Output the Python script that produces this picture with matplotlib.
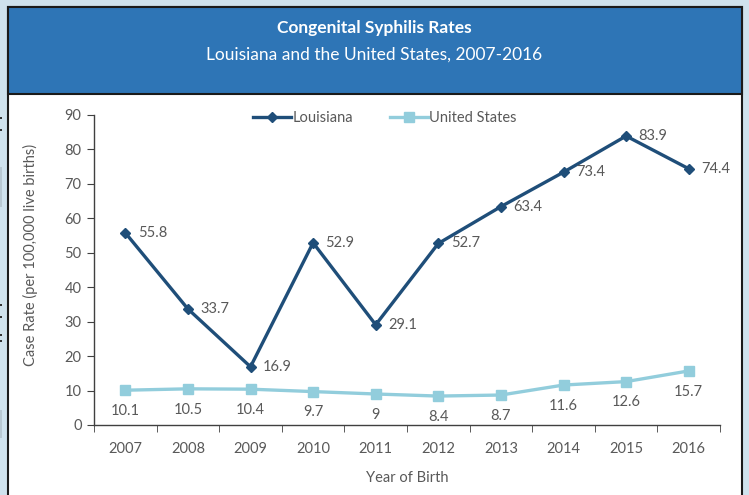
import matplotlib
matplotlib.use('Agg')
import matplotlib.pyplot as plt
import matplotlib.patches as patches

years = ['2007', '2008', '2009', '2010', '2011', '2012', '2013', '2014', '2015', '2016']
louisiana = [55.8, 33.7, 16.9, 52.9, 29.1, 52.7, 63.4, 73.4, 83.9, 74.4]
united_states = [10.1, 10.5, 10.4, 9.7, 9, 8.4, 8.7, 11.6, 12.6, 15.7]
us_labels = ['10.1', '10.5', '10.4', '9.7', '9', '8.4', '8.7', '11.6', '12.6', '15.7']

plt.rcParams['font.family'] = ['Lato', 'DejaVu Sans']

la_color = '#1f4e79'
us_color = '#92cddc'
text_gray = '#595959'

fig = plt.figure(figsize=(7.49, 4.95), dpi=100)
fig.patch.set_facecolor('#cfe2ed')

# white panel with black border, and the blue header on top
W, H = 749.0, 495.0
panel = patches.Rectangle((8 / W, -0.05), (742 - 8) / W, 1 - 7 / H + 0.05,
                          transform=fig.transFigure, facecolor='white',
                          edgecolor='#1a1a1a', linewidth=1.5, zorder=-2)
fig.patches.append(panel)
header = patches.Rectangle((8 / W, 1 - 94 / H), (742 - 8) / W, (94 - 7) / H,
                           transform=fig.transFigure, facecolor='#2e75b6',
                           edgecolor='#1a1a1a', linewidth=1.5, zorder=-1)
fig.patches.append(header)

# bits of the neighbouring slide peeking in at the left edge
for y0, h, c in [(117, 2, '#333333'), (129, 2, '#333333'), (167, 40, '#b8c8d2'),
                 (304, 2, '#333333'), (316, 2, '#333333'), (334, 2, '#333333'),
                 (340, 2, '#333333'), (410, 28, '#b8c8d2')]:
    fig.patches.append(patches.Rectangle((0, 1 - (y0 + h) / H), 2 / W, h / H,
                                         transform=fig.transFigure, facecolor=c,
                                         edgecolor='none', zorder=-1))

fig.text(0.5, 1 - 28 / H, 'Congenital Syphilis Rates', color='white',
         fontsize=12.5, fontweight='bold', ha='center', va='center')
fig.text(0.5, 1 - 55 / H, 'Louisiana and the United States, 2007-2016', color='white',
         fontsize=12.5, ha='center', va='center')

ax = fig.add_axes([94 / W, 1 - 425 / H, (720 - 94) / W, (425 - 115) / H])
ax.set_zorder(5)
ax.patch.set_alpha(0)
x = list(range(len(years)))

ax.plot(x, louisiana, color=la_color, linewidth=2.4, marker='D', markersize=5.5,
        label='Louisiana', zorder=3, clip_on=False)
ax.plot(x, united_states, color=us_color, linewidth=2.4, marker='s', markersize=7,
        label='United States', zorder=3, clip_on=False)

for i, v in enumerate(louisiana):
    ax.annotate(f'{v}', (i, v), xytext=(9, 0), textcoords='offset points',
                ha='left', va='center', fontsize=10.5, color=text_gray)
for i, v in enumerate(united_states):
    ax.annotate(us_labels[i], (i, v), xytext=(0, -15), textcoords='offset points',
                ha='center', va='center', fontsize=10.5, color=text_gray)

ax.set_xlim(-0.5, len(years) - 0.5)
ax.set_ylim(0, 90)
ax.set_yticks(range(0, 91, 10))
ax.set_xticks(x)
ax.set_xticklabels(years)
ax.set_xticks([i - 0.5 for i in range(len(years) + 1)], minor=True)
ax.tick_params(axis='x', which='major', length=0, pad=12, labelsize=10.5, labelcolor=text_gray)
ax.tick_params(axis='x', which='minor', length=5, direction='out', color='#404040')
ax.tick_params(axis='y', length=5, direction='out', color='#404040', labelsize=10.5,
               labelcolor=text_gray, pad=4)

for s in ['top', 'right']:
    ax.spines[s].set_visible(False)
for s in ['left', 'bottom']:
    ax.spines[s].set_color('#404040')
    ax.spines[s].set_linewidth(1)

ax.set_xlabel('Year of Birth', fontsize=10.5, color=text_gray, labelpad=11)
ax.set_ylabel('Case Rate (per 100,000 live births)', fontsize=10.5, color=text_gray)
ax.yaxis.set_label_coords(-0.089, 0.548)

fig.legend(loc='center', bbox_to_anchor=(385 / W, 1 - 118 / H), ncol=2, frameon=False,
           fontsize=10.5, labelcolor=text_gray, handlelength=2.6, handletextpad=0.1,
           columnspacing=2.5)

fig.savefig('out.png', dpi=100, facecolor=fig.get_facecolor())
